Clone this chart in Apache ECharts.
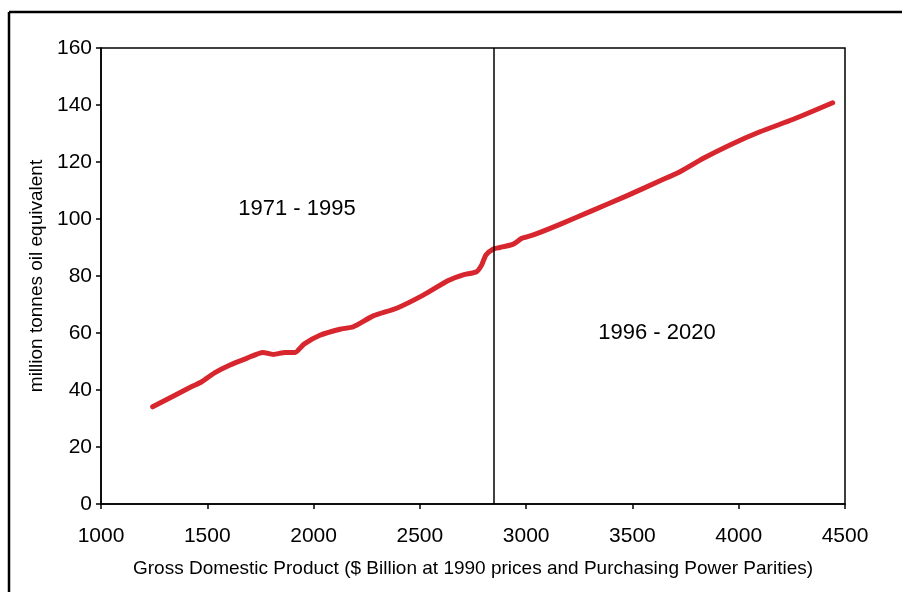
<!DOCTYPE html>
<html>
<head>
<meta charset="utf-8">
<script src="https://cdn.jsdelivr.net/npm/echarts@6/dist/echarts.min.js"></script>
<style>html,body{margin:0;padding:0;background:#fff;}#c{width:902px;height:592px;}</style>
</head>
<body>
<div id="c"></div>
<script>
const gdp = [1243, 1427, 1474, 1536, 1607, 1685, 1761, 1811, 1866, 1913, 1955, 2030, 2124, 2187, 2281, 2391, 2516, 2634, 2704, 2767, 2791, 2811, 2846, 2877, 2940, 2979, 3034, 3159, 3300, 3473, 3630, 3724, 3834, 3959, 4100, 4257, 4442];
const energy = [34.1, 41.2, 42.9, 46.1, 48.8, 51.1, 53.2, 52.5, 53.2, 53.2, 56.1, 59.2, 61.3, 62.2, 66.0, 68.7, 73.3, 78.4, 80.4, 81.5, 83.9, 87.4, 89.5, 90.0, 91.2, 93.2, 94.4, 98.1, 102.6, 108.1, 113.4, 116.6, 121.3, 126.0, 130.6, 135.0, 140.8];
const dividerGdp = 2846;
const periodLabels = ["1971 - 1995", "1996 - 2020"];
const xTitle = "Gross Domestic Product ($ Billion at 1990 prices and Purchasing Power Parities)";
const yTitle = "million tonnes oil equivalent";

const FONT = "Liberation Sans";
const chart = echarts.init(document.getElementById('c'), null, {renderer: 'canvas'});
chart.setOption({
  animation: false,
  backgroundColor: '#fff',
  textStyle: {fontFamily: FONT},
  grid: {left: 101, top: 48, right: 57, bottom: 88, show: true, borderColor: '#000', borderWidth: 1.5, backgroundColor: 'transparent'},
  xAxis: {
    type: 'value', min: 1000, max: 4500, interval: 500,
    name: xTitle, nameLocation: 'middle', nameGap: 55,
    nameTextStyle: {fontFamily: FONT, fontSize: 19, color: '#000'},
    axisLine: {show: true, lineStyle: {color: '#000', width: 1.5}},
    axisTick: {show: true, inside: false, length: 5, lineStyle: {color: '#000', width: 1.5}},
    axisLabel: {fontFamily: FONT, fontSize: 21, color: '#000', margin: 22, formatter: v => String(v)},
    splitLine: {show: false}
  },
  yAxis: {
    type: 'value', min: 0, max: 160, interval: 20,
    name: yTitle, nameLocation: 'middle', nameGap: 55,
    nameTextStyle: {fontFamily: FONT, fontSize: 19, color: '#000'},
    axisLine: {show: true, lineStyle: {color: '#000', width: 1.5}},
    axisTick: {show: true, inside: false, length: 5, lineStyle: {color: '#000', width: 1.5}},
    axisLabel: {fontFamily: FONT, fontSize: 21, color: '#000', margin: 9, formatter: v => String(v)},
    splitLine: {show: false}
  },
  series: [{
    type: 'line',
    data: gdp.map((g, i) => [g, energy[i]]),
    showSymbol: false,
    smooth: 0.2,
    lineStyle: {color: '#d7262e', width: 5, cap: 'round', join: 'round'},
    markLine: {
      silent: true, symbol: ['none', 'none'],
      label: {show: false},
      lineStyle: {color: '#000', width: 1.5, type: 'solid'},
      data: [{xAxis: dividerGdp}]
    },
    z: 3
  }],
  graphic: [
    {type: 'line', shape: {x1: 9, y1: 12, x2: 902, y2: 12}, style: {stroke: '#000', lineWidth: 2.5}},
    {type: 'line', shape: {x1: 9, y1: 12, x2: 9, y2: 592}, style: {stroke: '#000', lineWidth: 2.5}},
    {type: 'text', x: 297, y: 209, style: {text: periodLabels[0], fontFamily: FONT, fontSize: 22, fill: '#000', textAlign: 'center', textVerticalAlign: 'middle'}},
    {type: 'text', x: 657, y: 333, style: {text: periodLabels[1], fontFamily: FONT, fontSize: 22, fill: '#000', textAlign: 'center', textVerticalAlign: 'middle'}}
  ]
});
</script>
</body>
</html>
